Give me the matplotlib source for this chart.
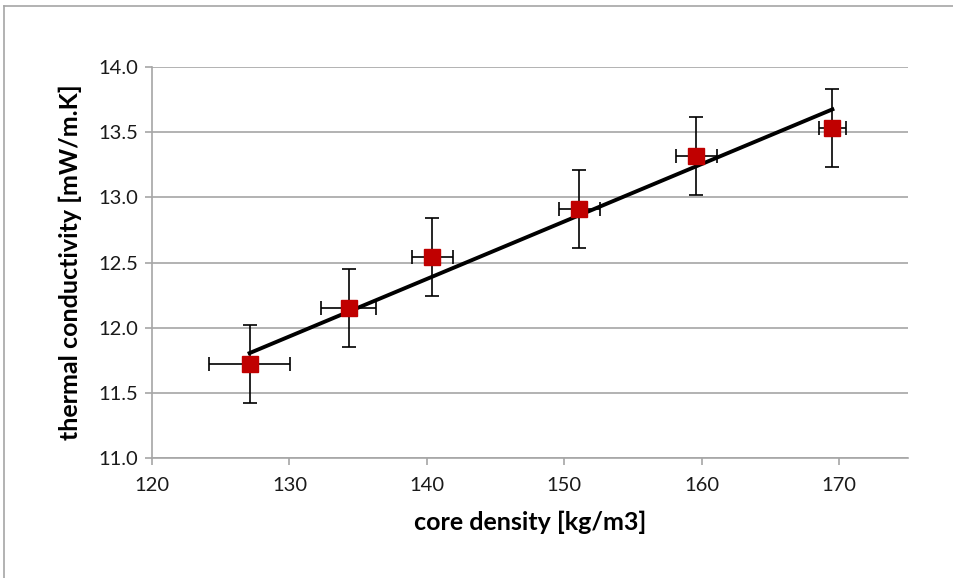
import numpy as np
import matplotlib
matplotlib.use("Agg")
import matplotlib.pyplot as plt
from matplotlib.lines import Line2D

density = [127.1, 134.3, 140.4, 151.1, 159.6, 169.5]
conductivity = [11.72, 12.15, 12.545, 12.91, 13.32, 13.535]
density_err = [2.95, 2.0, 1.5, 1.5, 1.5, 1.0]
conductivity_err = [0.30, 0.30, 0.30, 0.30, 0.30, 0.30]

# linear trendline as drawn in the reference (end points)
trend_density = [127.1, 169.5]
trend_conductivity = [11.805, 13.675]

x_ticks = [120, 130, 140, 150, 160, 170]
y_ticks = [11.0, 11.5, 12.0, 12.5, 13.0, 13.5, 14.0]

plt.rcParams['font.family'] = ['Lato', 'DejaVu Sans']

fig = plt.figure(figsize=(9.54, 5.78), dpi=100)
ax = fig.add_axes([152/954, 1-458/578, (908-152)/954, (458-67)/578])

# frame lines (top and left of figure border)
fig.add_artist(Line2D([4/954, 1], [1-6/578, 1-6/578], color='#a6a6a6', lw=1.2))
fig.add_artist(Line2D([4/954, 4/954], [0, 1-6/578], color='#a6a6a6', lw=1.2))

ax.set_xlim(120, 175)
ax.set_ylim(11.0, 14.0)
ax.set_xticks(x_ticks)
ax.set_yticks(y_ticks)
ax.set_yticklabels([f"{v:.1f}" for v in y_ticks])
ax.grid(axis='y', color='#a6a6a6', lw=1.2)
ax.set_axisbelow(True)
for s in ['top', 'right']:
    ax.spines[s].set_visible(False)
for s in ['left', 'bottom']:
    ax.spines[s].set_color('#a6a6a6')
    ax.spines[s].set_linewidth(1.2)
ax.tick_params(axis='both', direction='out', length=5, color='#a6a6a6', width=1.2,
               labelsize=14.5, labelcolor='#1a1a1a')
ax.tick_params(axis='y', pad=5)
ax.tick_params(axis='x', pad=9)

ax.errorbar(density, conductivity, xerr=density_err, yerr=conductivity_err,
            fmt='none', ecolor='black', elinewidth=1.2, capsize=5, capthick=1.2, zorder=3)

ax.plot(trend_density, trend_conductivity, color='black', lw=2.8, zorder=4)

ax.plot(density, conductivity, 's', color='#c00000', markersize=12, zorder=5,
        markeredgecolor='#c00000')

ax.set_xlabel('core density [kg/m3]', fontsize=18, fontweight='bold', labelpad=12)
ax.set_ylabel('thermal conductivity [mW/m.K]', fontsize=18, fontweight='bold', labelpad=12)

fig.savefig('out.png', dpi=100)
